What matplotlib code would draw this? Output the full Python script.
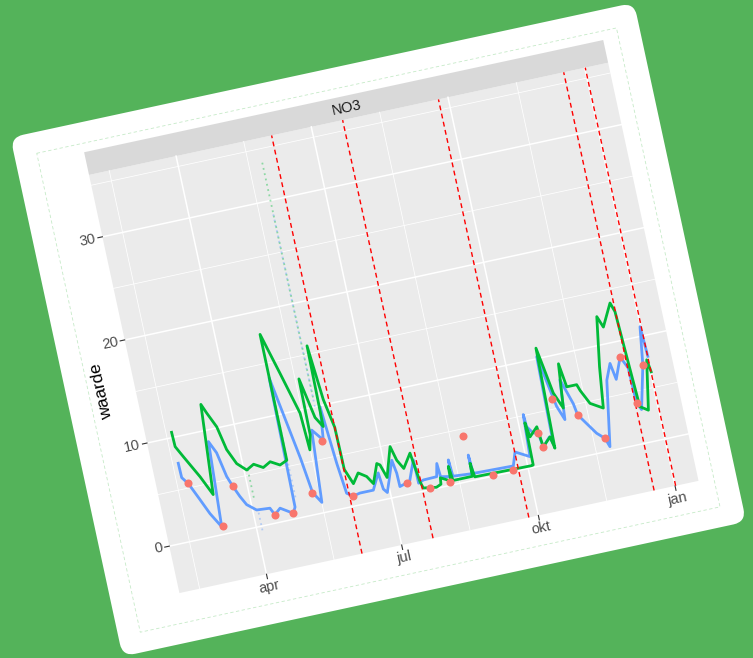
import matplotlib
matplotlib.use("Agg")
import matplotlib.pyplot as plt
import numpy as np
from matplotlib.transforms import Affine2D
from matplotlib.patches import FancyBboxPatch, Rectangle

plt.rcParams['font.family'] = ['Liberation Sans', 'DejaVu Sans']

# --- data: dag = day of year 2019, waarde = NO3 ---
groen_dag = [48.7, 49.0, 52.9, 60.9, 66.8, 69.0, 71.4, 73.9, 78.5, 81.7, 86.2, 91.8, 97.0,
             102.8, 108.0, 113.9, 118.9, 119.2, 126.6, 134.0, 135.2, 137.5, 138.0, 143.0,
             147.0, 147.8, 150.8, 154.3, 154.6, 158.5, 163.0, 168.0, 171.4, 176.3, 178.2,
             181.0, 187.2, 189.6, 193.0, 199.1, 201.6, 202.8, 211.4, 214.7, 215.2, 221.5,
             221.9, 223.0, 236.0, 236.3, 237.5, 275.6, 276.7, 277.2, 278.6, 284.3, 285.7,
             291.4, 293.0, 294.7, 296.8, 299.6, 304.0, 307.0, 309.1, 315.8, 317.2, 321.8,
             329.7, 333.0, 338.2, 341.0, 348.6, 350.6, 352.0, 353.4, 358.4, 364.3, 365.5]
groen_no3 = [10.5, 9.1, 8.0, 5.8, 3.9, 8.0, 12.5, 11.6, 10.1, 7.8, 6.3, 5.5, 5.9,
             5.4, 5.8, 5.3, 5.6, 17.8, 13.8, 9.7, 6.1, 7.5, 12.9, 9.0,
             8.0, 15.8, 10.5, 7.7, 3.6, 2.1, 3.0, 2.5, 1.7, 3.5, 3.3,
             2.0, 4.8, 3.4, 2.5, 3.8, 0.95, 0.3, 0.1, 0.3, 0.9, 0.4,
             1.8, 0.4, 0.4, 1.65, 0.3, 0.2, 0.23, 4.3, 2.9, 3.7, 1.7,
             2.5, 1.35, 11.0, 9.1, 6.5, 4.9, 9.1, 6.8, 6.8, 6.2, 4.8,
             4.1, 8.0, 12.7, 11.6, 13.7, 12.8, 8.0, 3.5, 3.0, 7.7, 6.5]

blauw_dag = [48.7, 48.9, 52.4, 57.6, 62.1, 67.8, 71.1, 74.8, 78.0, 80.5, 83.7, 86.9, 92.6,
             101.4, 103.7, 107.9, 115.7, 117.7, 119.0, 123.0, 128.0, 131.0, 135.6, 139.1,
             145.2, 147.7, 150.6, 152.8, 156.7, 161.4, 170.4, 175.9, 177.0, 179.1, 186.4,
             187.8, 188.0, 195.0, 200.3, 200.5, 204.0, 213.0, 214.9, 215.5, 222.6, 222.8,
             223.5, 236.2, 236.3, 237.0, 263.8, 266.8, 275.8, 277.3, 277.8, 281.1, 284.3,
             285.7, 291.0, 292.6, 294.0, 298.0, 299.9, 303.4, 305.7, 311.0, 312.2, 316.8,
             321.9, 326.6, 328.6, 335.8, 340.2, 342.0, 347.6, 351.3, 351.8, 354.1, 361.1,
             364.6, 365.5]
blauw_no3 = [7.5, 6.1, 5.4, 3.7, 2.2, 0.75, 8.9, 7.7, 5.3, 4.3, 3.2, 2.3, 1.6,
             1.5, 0.8, 1.3, 0.56, 1.1, 13.6, 10.0, 5.5, 2.1, 1.0, 7.9,
             6.75, 9.9, 4.3, 1.35, 0.96, 1.1, 1.1, 2.6, 1.0, 0.6, 3.5,
             2.2, 0.9, 1.2, 3.1, 0.84, 1.04, 1.08, 2.3, 1.0, 0.8, 2.4,
             0.8, 0.65, 2.45, 0.65, 0.54, 1.8, 1.07, 5.1, 3.9, 3.2, 3.1,
             1.7, 2.5, 1.8, 10.2, 6.8, 5.2, 3.8, 7.6, 5.1, 4.0, 3.0,
             1.9, 1.26, 0.39, 6.6, 8.1, 6.5, 8.5, 7.3, 3.9, 3.2, 7.3,
             10.9, 8.0]

lab_dag = [52.4, 68.6, 80.5, 103.7, 115.7, 130.8, 144.1, 156.7, 192.8, 207.2, 220.9,
           235.3, 249.6, 263.2, 284.3, 285.7, 297.8, 312.2, 326.6, 347.6, 351.8, 361.1]
lab_no3 = [5.5, 0.8, 4.3, 0.77, 0.56, 2.1, 6.7, 0.96, 1.07, 0.2, 0.35,
           4.3, 0.1, 0.17, 3.1, 1.7, 6.0, 4.0, 1.26, 8.5, 3.9, 7.3]

# faint sensor readings (sparse, drawn as dotted vertical smears)
smeer_kleur = ['#00BA38', '#619CFF', '#00BA38', '#619CFF', '#619CFF']
smeer_dag = [144.5, 144.4, 92.5, 93.5, 119.3]
smeer_laag = [10.9, 10.0, 2.8, -0.4, 2.0]
smeer_hoog = [33.9, 28.8, 5.5, 1.5, 12.0]

grens_dag = [154.3, 202.1, 266.6, 350.9, 365.4]
maand_dag = [90, 181, 273, 365]
maand_lab = ["apr", "jul", "okt", "jan"]
y_breaks = [0, 10, 20, 30]

xlim = (31.4, 380.8)
ylim = (-4.55, 36.0)

# --- figure with the tilted "card" ---
fig = plt.figure(figsize=(7.53, 6.58), dpi=100)
fig.patch.set_facecolor('#54B35A')
ax = fig.add_axes([0, 0, 1, 1])
ax.set_xlim(0, 753)
ax.set_ylim(658, 0)
ax.axis('off')

ang = 12.2
c, s = np.cos(np.deg2rad(ang)), np.sin(np.deg2rad(ang))
card = Affine2D(np.array([[c, s, 13.0], [-s, c, 140.0], [0, 0, 1.0]])) + ax.transData

def sx(d):
    return 156 + (d - 90) * 1.52

def sy(v):
    return 430 - v * 10.55

dtf = Affine2D().scale(1.52, -10.55).translate(156 - 90 * 1.52, 430) + card

ax.add_patch(FancyBboxPatch((-2, -3), 638, 531, boxstyle="round,pad=0,rounding_size=13",
                            transform=card, fc='white', ec='none', zorder=1))
ax.add_patch(Rectangle((20.4, 18), 593.1, 490, transform=card, fill=False,
                       ec='#C6EAC8', lw=0.6, ls=(0, (4, 3)), zorder=1.5))

# panel + strip
ax.add_patch(Rectangle((xlim[0], ylim[0]), xlim[1] - xlim[0], ylim[1] - ylim[0],
                       transform=dtf, fc='#EBEBEB', ec='none', zorder=2))
ax.add_patch(Rectangle((sx(xlim[0]), 27), sx(xlim[1]) - sx(xlim[0]), sy(ylim[1]) - 27,
                       transform=card, fc='#D9D9D9', ec='none', zorder=2))
ax.text((sx(xlim[0]) + sx(xlim[1])) / 2, (27 + sy(ylim[1])) / 2 + 0.5, "NO3", transform=card,
        rotation=ang, rotation_mode='anchor', ha='center', va='center',
        fontsize=10.5, color='#1A1A1A', zorder=3)

# grid
br = [0] + maand_dag
minor_x = [(a + b) / 2 for a, b in zip(br[:-1], br[1:])]
for d in minor_x:
    ax.plot([d, d], ylim, transform=dtf, color='white', lw=0.55, zorder=3)
for v in [5, 15, 25, 35]:
    ax.plot(xlim, [v, v], transform=dtf, color='white', lw=0.55, zorder=3)
for d in maand_dag:
    ax.plot([d, d], ylim, transform=dtf, color='white', lw=1.1, zorder=3)
for v in y_breaks:
    ax.plot(xlim, [v, v], transform=dtf, color='white', lw=1.1, zorder=3)

# data
for d, lo, hi, col in zip(smeer_dag, smeer_laag, smeer_hoog, smeer_kleur):
    ax.plot([d, d], [lo, hi], transform=dtf, color=col, lw=1.3, ls=(0, (1, 2)),
            alpha=0.4, zorder=4)
ax.plot(blauw_dag, blauw_no3, transform=dtf, color='#619CFF', lw=2.0, zorder=4.5)
ax.plot(groen_dag, groen_no3, transform=dtf, color='#00BA38', lw=2.0, zorder=5)
for d in grens_dag:
    ax.plot([d, d], ylim, transform=dtf, color='red', lw=1.0, ls=(0, (3.5, 2.5)), zorder=6)
ax.plot(lab_dag, lab_no3, 'o', transform=dtf, color='#F8766D', ms=5.8, mec='none', zorder=7)

# axes ticks and labels
for v in y_breaks:
    ax.plot([62.3, sx(xlim[0])], [sy(v), sy(v)], transform=card, color='#333333', lw=0.8, zorder=3)
    ax.text(60.3, sy(v), str(v), transform=card, rotation=ang, rotation_mode='anchor',
            ha='right', va='center', fontsize=10.5, color='#4D4D4D', zorder=3)
for d, lab in zip(maand_dag, maand_lab):
    ax.plot([sx(d), sx(d)], [sy(ylim[0]), sy(ylim[0]) + 4.5], transform=card, color='#333333',
            lw=0.8, zorder=3)
    ax.text(sx(d), sy(ylim[0]) + 6.0, lab, transform=card, rotation=ang, rotation_mode='anchor',
            ha='center', va='top', fontsize=10.5, color='#4D4D4D', zorder=3)
ax.text(33.5, (sy(ylim[0]) + sy(ylim[1])) / 2, "waarde", transform=card, rotation=90 + ang,
        rotation_mode='anchor', ha='center', va='center', fontsize=12.5, color='black', zorder=3)

fig.savefig("out.png", dpi=100, facecolor=fig.get_facecolor())
